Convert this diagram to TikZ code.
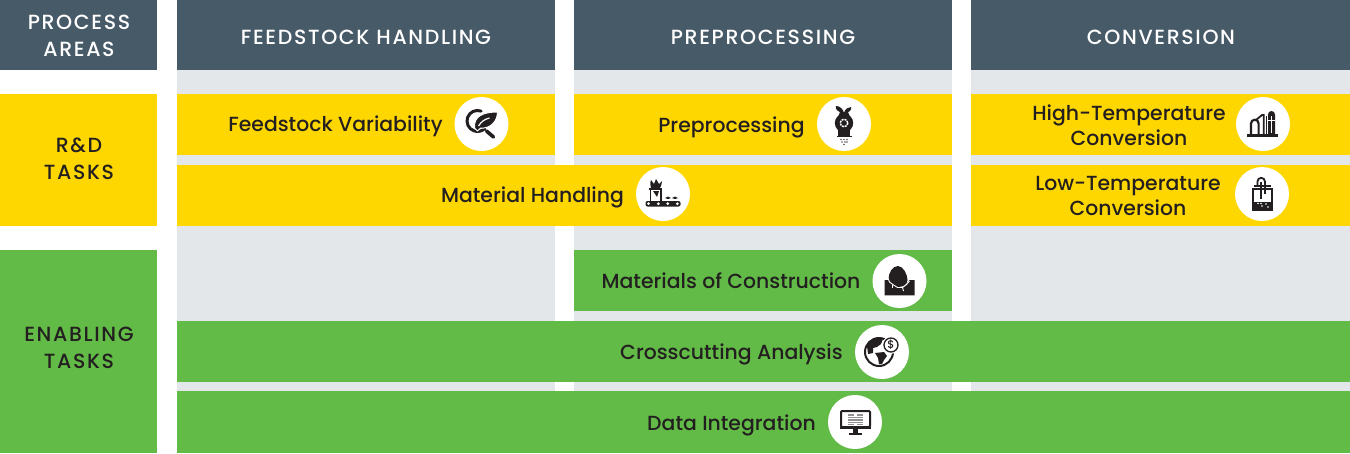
\documentclass[tikz,border=0pt]{standalone}
\usepackage{fontspec}
\setmainfont{Poppins Medium}
\definecolor{slate}{HTML}{475A68}
\definecolor{sunny}{HTML}{FFD700}
\definecolor{leafy}{HTML}{62BB46}
\definecolor{haze}{HTML}{E4E7EA}
\definecolor{ink}{HTML}{231F20}
\newfontfamily\capsfont[LetterSpace=8]{Poppins Medium}
\tikzset{
  lab/.style={font=\fontsize{20.4}{25}\selectfont, text=ink, align=center, inner sep=0pt},
  headlab/.style={font=\capsfont\fontsize{20.5}{27}\selectfont, text=white, align=center, inner sep=0pt},
  sidelab/.style={font=\capsfont\fontsize{20.5}{27}\selectfont, text=ink, align=center, inner sep=0pt},
  badge/.style={circle, fill=white, minimum size=54pt, inner sep=0pt},
  iconlens/.pic={
    \draw[ink, line width=3pt, line cap=round] (-0.4,-12.9) arc (-70:-315:10.5);
    \fill[ink, draw=white, line width=1pt] (-7,4) .. controls (-8,-8) and (2,-12) .. (16,-12)
      .. controls (16,-2) and (8,5) .. (-1,4) -- (-4,7) -- cycle;
    \draw[white, line width=1.2pt] (-3,2) .. controls (0,-3) and (4,-5) .. (8,-6);
    \draw[ink, line width=3.6pt, line cap=round] (5,7) -- (12,13);},
  iconsack/.pic={
    \fill[ink] (0,-1) circle (9.2);
    \fill[ink] (-4,-12) -- (4,-12) -- (6,-7) -- (-6,-7) -- cycle;
    \fill[ink] (0,-11) .. controls (-7,-12) and (-9,-15) .. (-8,-18) .. controls (-4,-18) and (-1,-15) .. cycle;
    \fill[ink] (0,-11) .. controls (1,-15) and (4,-17) .. (7,-17) .. controls (8,-14) and (5,-11) .. cycle;
    \fill[ink] (-6,5) rectangle (6,12);
    \fill[ink] (-7.5,12) rectangle (7.5,13.4);
    \draw[white, line width=1.5pt, dash pattern=on 2pt off 1pt] (0,-1) circle (3.8);
    \foreach \dotx/\doty in {-3/15.5, 0/15.5, 3/15.5, -2/18, 1/18, 3/18, 0/20.5}{
      \fill[ink!75] (\dotx,\doty) circle (0.8);}},
  iconbelt/.pic={
    \fill[ink] (-12,-6) .. controls (-13,-10) and (-13,-13) .. (-12,-14) -- (-9,-10)
      -- (-7,-15) -- (-4,-10) -- (-1,-13) .. controls (-1,-10) and (-2,-8) .. (-3,-6) -- cycle;
    \fill[ink] (-14,-6) rectangle (-1,-4);
    \draw[ink, line width=1.4pt] (-12.8,-4) -- (-12.8,7) (-2,-4) -- (-2,7);
    \fill[ink] (-10,-3) -- (-4,-3) -- (-6,3) -- cycle;
    \fill[ink, rounded corners=2pt] (-17.5,7) rectangle (17.5,12.5);
    \foreach \beltx in {-14.5,-4.7,4.7,14.3}{\fill[white] (\beltx,9.7) circle (1.5);}
    \foreach \pilex in {5,12}{\fill[ink] (\pilex-3,4) -- (\pilex,2.5) -- (\pilex+3,4) -- (\pilex,5) -- cycle;}},
  icontower/.pic={
    \fill[ink] (-16,10) rectangle (15,12.5);
    \draw[ink, line width=2.2pt] (-12,10) -- (-12,-0.5) arc (180:360:3.8) -- (-4.4,10);
    \draw[ink, line width=1.8pt] (-7,-4) -- (-1,-9) -- (0.8,-9) -- (0.8,10);
    \fill[ink] (5,10) -- (5,-9.5) arc (180:360:3.5) -- (12,10) -- cycle;
    \fill[ink] (2.8,10) rectangle (4,-8);
    \draw[white, line width=0.7pt] (8.6,-8) -- (8.6,9);
    \draw[white, line width=0.7pt] (5,-4) -- (12,-4);},
  iconvessel/.pic={
    \draw[ink, line width=1.8pt] (-9.3,-5.3) rectangle (9.7,16.3);
    \fill[ink] (-9.3,8) rectangle (9.7,16.3);
    \foreach \bubx/\buby in {-4/9.5, 0/12, 4/10, -1/9.5, 6/13}{\fill[white] (\bubx,\buby) circle (0.9);}
    \draw[ink, line width=1.6pt] (-8.5,-8) -- (8.5,-8);
    \draw[ink, line width=1.8pt] (-4.5,-8) -- (-4.5,-12.5) arc (180:360:3.7) -- (2.9,-8);
    \draw[ink, line width=1.3pt] (-1,-12) -- (-1,5);
    \draw[ink, line width=1.3pt] (3,-8) -- (3,0);},
  iconrock/.pic={
    \fill[ink] (-15,-1) -- (-11,-1) -- (-5,5) -- (2,7) -- (7,3) -- (10,-1) -- (15,-1) -- (15,14.3) -- (-15,14.3) -- cycle;
    \fill[ink] (-1.5,-15) .. controls (4,-15) and (8,-6) .. (8,-1)
      .. controls (8,4) and (3,6) .. (-1.5,6) .. controls (-7,6) and (-11,3) .. (-11,-2)
      .. controls (-11,-8) and (-7,-15) .. (-1.5,-15) -- cycle;
    \draw[white, line width=0.9pt] (-12,-4) -- (-10,1) -- (-6,4) -- (-2,6.5) -- (3,6.5) -- (7,3.5) -- (10,0);
    \draw[white, line width=0.9pt] (-7,4) -- (-7,7);
    \draw[white, line width=0.9pt] (3,6.5) -- (4,10);},
  iconglobe/.pic={
    \draw[ink, line width=2pt] (-3,0) circle (14);
    \fill[ink] (-15,-6) .. controls (-11,-13) and (-6,-15) .. (1,-13) -- (-1,-8) -- (-5,-5) -- (-9,-4) -- (-9,1) -- (-14,2) -- cycle;
    \fill[ink] (-7,1) -- (2,0) -- (5,4) -- (2,8) -- (0,12) -- (-3,12) -- (-4,6) -- cycle;
    \fill[white] (9,-7) circle (8.8);
    \draw[ink, line width=1.3pt] (9,-7) circle (7);
    \node[inner sep=0pt, font=\fontsize{11}{11}\selectfont, text=ink] (coin) at (9,-7) {\$};},
  iconscreen/.pic={
    \draw[ink, line width=2pt, rounded corners=1pt] (-14,-11) rectangle (15,5);
    \fill[ink] (-15,5) rectangle (16,7);
    \fill[ink] (-2,7) rectangle (3,11);
    \fill[ink] (-6,11) rectangle (7,12.5);
    \fill[ink!50] (-7.5,-8) rectangle (-1,3);
    \fill[ink!50] (2,-8) rectangle (8,3);
    \fill[ink!50] (-1,-6) rectangle (2,1);
    \foreach \stripey in {-6,-3.5,-1,1.5}{\draw[white, line width=0.4pt] (-7.5,\stripey) -- (8,\stripey);}}
}
\begin{document}
\begin{tikzpicture}[x=1pt, y=-1pt]
  \useasboundingbox (0,0) rectangle (1350,453);
  % grey columns
  \foreach \xa/\xb in {177/555, 574/952, 971/1350}{
    \fill[haze] (\xa,70) rectangle (\xb,453);}
  % headers
  \foreach \xa/\xb in {0/157, 177/555, 574/952, 971/1350}{
    \fill[slate] (\xa,0) rectangle (\xb,70);}
  % yellow bars
  \foreach \xa/\ya/\xb/\yb in {0/94/157/226, 177/94/555/155, 574/94/952/155, 971/94/1350/155,
      177/165/952/226, 971/165/1350/226}{
    \fill[sunny] (\xa,\ya) rectangle (\xb,\yb);}
  % green bars
  \foreach \xa/\ya/\xb/\yb in {0/250/157/453, 574/250/952/311, 177/321/1350/382, 177/391/1350/453}{
    \fill[leafy] (\xa,\ya) rectangle (\xb,\yb);}
  % header and side labels
  \node[headlab] (areas) at (79,36) {PROCESS\\AREAS};
  \node[headlab] (feedhead) at (366,37) {FEEDSTOCK HANDLING};
  \node[headlab] (prehead) at (763,37) {PREPROCESSING};
  \node[headlab] (convhead) at (1161,37) {CONVERSION};
  \node[sidelab] (rdtasks) at (79,159) {R\&D\\TASKS};
  \node[sidelab] (entasks) at (79,348) {ENABLING\\TASKS};
  % task labels
  \node[lab] (variab) at (335.5,126.5) {Feedstock Variability};
  \node[lab] (preproc) at (731.5,127) {Preprocessing};
  \node[lab] (hightemp) at (1129,125.5) {High-Temperature\\Conversion};
  \node[lab] (handling) at (532.5,197.5) {Material Handling};
  \node[lab] (lowtemp) at (1128,196) {Low-Temperature\\Conversion};
  \node[lab] (constr) at (731,281) {Materials of Construction};
  \node[lab] (crossc) at (731.5,354.5) {Crosscutting Analysis};
  \node[lab] (dataint) at (731.5,425.5) {Data Integration};
  % white badges and their icons
  \foreach \nm/\bx/\by/\ic in {bvariab/481.5/124/iconlens, bpreproc/844/124/iconsack,
      bhigh/1263/124/icontower, bhandling/663/194/iconbelt, blow/1262/194/iconvessel,
      bconstr/899.5/281/iconrock, bcross/882/352/iconglobe, bdata/855/422/iconscreen}{
    \node[badge] (\nm) at (\bx,\by) {};
    \pic at (\bx,\by) {\ic};}
\end{tikzpicture}
\end{document}
